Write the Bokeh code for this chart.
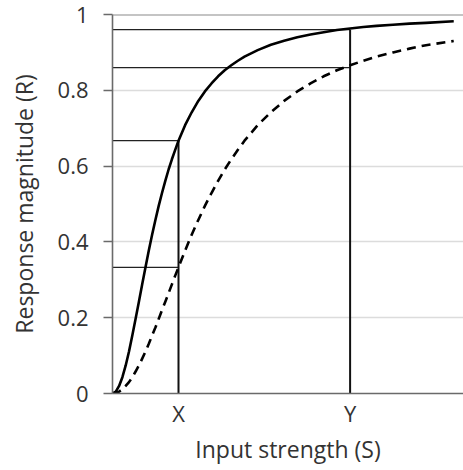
from bokeh.plotting import figure
from bokeh.models import FixedTicker, Span, Range1d
from bokeh.embed import file_html
from bokeh.resources import INLINE

# Input strength (S), in units where X = 1
s_values = [0.0, 0.05, 0.1, 0.15, 0.2, 0.25, 0.3, 0.35, 0.4, 0.45, 0.5, 0.55, 0.6, 0.65,
            0.7, 0.75, 0.8, 0.85, 0.9, 0.95, 1.0, 1.1, 1.2, 1.3, 1.4, 1.5, 1.6, 1.7,
            1.8, 1.9, 2.0, 2.2, 2.4, 2.6, 2.8, 3.0, 3.2, 3.4, 3.6, 3.8, 4.0, 4.25,
            4.5, 4.75, 5.17]
# Response of the steep curve (solid)
r_solid = [0.0, 0.005, 0.020, 0.043, 0.074, 0.111, 0.153, 0.197, 0.242, 0.288, 0.333,
           0.377, 0.419, 0.458, 0.495, 0.529, 0.561, 0.591, 0.618, 0.643, 0.667, 0.708,
           0.742, 0.772, 0.797, 0.818, 0.837, 0.853, 0.866, 0.878, 0.889, 0.906, 0.920,
           0.931, 0.940, 0.947, 0.953, 0.959, 0.963, 0.967, 0.970, 0.973, 0.976, 0.978,
           0.982]
# Response of the shallow curve (dashed)
r_dashed = [0.0, 0.001, 0.005, 0.011, 0.020, 0.030, 0.043, 0.058, 0.074, 0.092, 0.111,
            0.131, 0.153, 0.174, 0.197, 0.220, 0.242, 0.265, 0.288, 0.311, 0.333, 0.377,
            0.419, 0.458, 0.495, 0.529, 0.561, 0.591, 0.618, 0.643, 0.667, 0.708, 0.742,
            0.772, 0.797, 0.818, 0.837, 0.853, 0.866, 0.878, 0.889, 0.900, 0.910, 0.919,
            0.930]

x_ticks = [1.0, 3.6]
x_tick_labels = ["X", "Y"]
y_ticks = [0, 0.2, 0.4, 0.6, 0.8, 1.0]
y_tick_labels = ["0", "0.2", "0.4", "0.6", "0.8", "1"]

# reference lines: S position and the response level reached
ref_x = [1.0, 1.0, 3.6, 3.6]
ref_levels = [0.333, 0.667, 0.86, 0.96]
vert_x = [1.0, 3.6]
vert_top = [0.667, 0.96]

FONT = "Open Sans"
TXT = "#333333"
AX = "#6a6a6a"

p = figure(width=463, height=470, output_backend="svg", toolbar_location=None,
           x_range=Range1d(0, 5.318), y_range=Range1d(0, 1.0),
           min_border_left=112, min_border_right=0, min_border_top=14,
           min_border_bottom=77)
p.outline_line_color = None
p.background_fill_color = "white"
p.border_fill_color = "white"

# grid
p.xgrid.visible = False
p.ygrid.ticker = FixedTicker(ticks=y_ticks)
p.ygrid.grid_line_color = "#dcdcdc"
p.ygrid.grid_line_width = 1.5

# top line at 1
p.add_layout(Span(location=1.0, dimension="width", line_color="#8a8a8a", line_width=2))

# reference lines
p.segment(x0=[0] * len(ref_levels), y0=ref_levels, x1=ref_x, y1=ref_levels,
          line_color="#222222", line_width=1.3)
p.segment(x0=vert_x, y0=[0] * len(vert_x), x1=vert_x, y1=vert_top,
          line_color="#111111", line_width=2)

# curves
p.line(s_values, r_solid, line_color="black", line_width=2.6, line_join="round")
p.line(s_values, r_dashed, line_color="black", line_width=2.6, line_dash="9 6",
       line_join="round")

# y axis
ya = p.yaxis[0]
ya.ticker = FixedTicker(ticks=y_ticks)
ya.major_label_overrides = {t: l for t, l in zip(y_ticks, y_tick_labels)}
ya.axis_label = "Response magnitude (R)"
ya.axis_label_text_font = FONT
ya.axis_label_text_font_size = "23px"
ya.axis_label_text_font_style = "normal"
ya.axis_label_text_color = TXT
ya.axis_label_standoff = 15
ya.major_label_text_font = FONT
ya.major_label_text_font_size = "22px"
ya.major_label_text_color = TXT
ya.major_label_standoff = 15
ya.major_tick_out = 9
ya.major_tick_in = 0
ya.minor_tick_out = 0
ya.minor_tick_in = 0
ya.axis_line_color = AX
ya.axis_line_width = 1.6
ya.major_tick_line_color = AX
ya.major_tick_line_width = 1.6

# x axis
xa = p.xaxis[0]
xa.ticker = FixedTicker(ticks=x_ticks)
xa.major_label_overrides = {t: l for t, l in zip(x_ticks, x_tick_labels)}
xa.axis_label = "Input strength (S)"
xa.axis_label_text_font = FONT
xa.axis_label_text_font_size = "23px"
xa.axis_label_text_font_style = "normal"
xa.axis_label_text_color = TXT
xa.axis_label_standoff = 2
xa.major_label_text_font = FONT
xa.major_label_text_font_size = "22px"
xa.major_label_text_color = TXT
xa.major_label_standoff = 4
xa.major_tick_out = 0
xa.major_tick_in = 0
xa.minor_tick_out = 0
xa.minor_tick_in = 0
xa.axis_line_color = AX
xa.axis_line_width = 1.6

open("out.html", "w").write(file_html(p, INLINE))
